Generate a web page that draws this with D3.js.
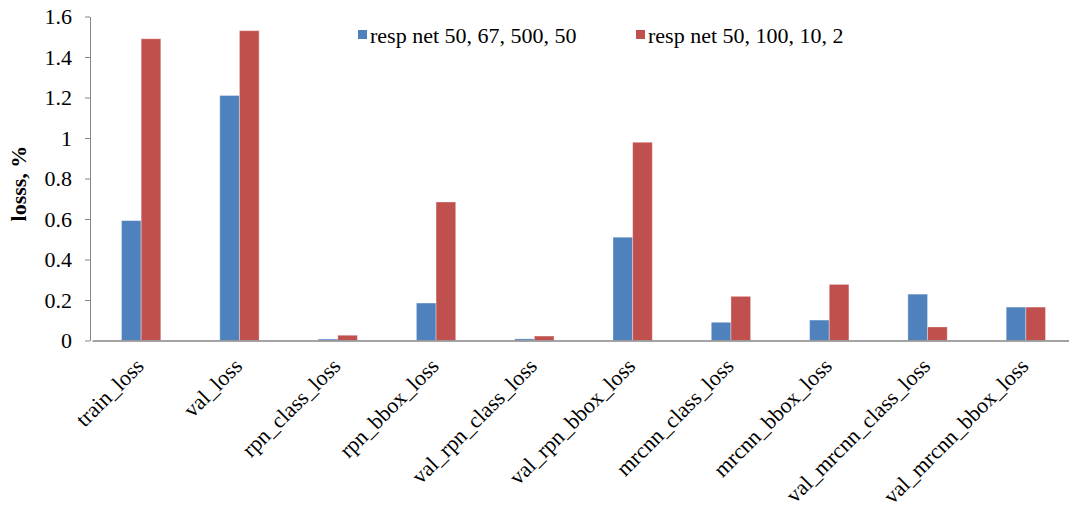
<!DOCTYPE html>
<html>
<head>
<meta charset="utf-8">
<script src="https://cdn.jsdelivr.net/npm/d3@7"></script>
<style>
  html, body { margin: 0; padding: 0; background: #ffffff; }
  svg { display: block; }
</style>
</head>
<body>
<svg id="chart" width="1069" height="510"></svg>
<script>
// Loss components compared across two network configurations
const categories = [
  "train_loss", "val_loss", "rpn_class_loss", "rpn_bbox_loss", "val_rpn_class_loss",
  "val_rpn_bbox_loss", "mrcnn_class_loss", "mrcnn_bbox_loss", "val_mrcnn_class_loss",
  "val_mrcnn_bbox_loss"
];
const seriesNames = ["resp net 50, 67, 500, 50", "resp net 50, 100, 10, 2"];
const seriesA = [0.592, 1.21, 0.007, 0.185, 0.008, 0.51, 0.09, 0.101, 0.229, 0.165];
const seriesB = [1.49, 1.53, 0.026, 0.684, 0.022, 0.979, 0.218, 0.277, 0.067, 0.165];
const yTicks = [0, 0.2, 0.4, 0.6, 0.8, 1, 1.2, 1.4, 1.6];
const yTitle = "losss, %";
const colors = ["#4F81BD", "#C0504D"];

const svg = d3.select("#chart");
const plot = { left: 90, right: 1075, top: 16.5, bottom: 340.5 };
const fontFamily = '"Liberation Serif", "Times New Roman", serif';
const fontSize = "22px";

const x0 = d3.scaleBand()
  .domain(categories)
  .range([plot.left + 2, plot.right])
  .paddingInner(0.6)
  .paddingOuter(0.3);

const x1 = d3.scaleBand()
  .domain(seriesNames)
  .range([0, x0.bandwidth()]);

const y = d3.scaleLinear()
  .domain([0, 1.6])
  .range([plot.bottom, plot.top]);

const rows = categories.map((c, i) => ({ cat: c, values: [seriesA[i], seriesB[i]] }));

// Bars
const groups = svg.append("g")
  .selectAll("g")
  .data(rows)
  .join("g")
  .attr("transform", d => `translate(${x0(d.cat)},0)`);

groups.selectAll("rect")
  .data(d => d.values.map((v, k) => ({ name: seriesNames[k], value: v, k })))
  .join("rect")
  .attr("x", d => x1(d.name))
  .attr("y", d => y(d.value))
  .attr("width", x1.bandwidth())
  .attr("height", d => y(0) - y(d.value))
  .attr("fill", d => colors[d.k])
  .attr("stroke", "rgba(255,255,255,0.35)")
  .attr("stroke-width", 1);

// Y axis
const yAxis = d3.axisLeft(y)
  .tickValues(yTicks)
  .tickFormat(d3.format("~g"))
  .tickSize(5)
  .tickSizeOuter(0)
  .tickPadding(13);

const yg = svg.append("g")
  .attr("transform", `translate(${plot.left},0)`)
  .call(yAxis);
yg.select(".domain").attr("stroke", "#868686");
yg.selectAll(".tick line").attr("stroke", "#868686");
yg.selectAll(".tick text")
  .attr("fill", "#000")
  .style("font-family", fontFamily)
  .style("font-size", fontSize);

// X axis baseline
const xAxis = d3.axisBottom(x0).tickSize(0).tickSizeOuter(0).tickFormat("");
const xg = svg.append("g")
  .attr("transform", `translate(0,${plot.bottom})`)
  .call(xAxis);
xg.select(".domain").attr("stroke", "#868686").attr("stroke-width", 1.5);

// Rotated category labels
svg.append("g")
  .selectAll("text")
  .data(categories)
  .join("text")
  .attr("transform", d => `translate(${x0(d) + x0.bandwidth() / 2 + 4},${plot.bottom + 27}) rotate(-45)`)
  .attr("text-anchor", "end")
  .style("font-family", fontFamily)
  .style("font-size", fontSize)
  .attr("fill", "#000")
  .text(d => d);

// Y title
svg.append("text")
  .attr("transform", `translate(26,${y(0.775)}) rotate(-90)`)
  .attr("text-anchor", "middle")
  .style("font-family", fontFamily)
  .style("font-size", fontSize)
  .style("font-weight", "bold")
  .text(yTitle);

// Legend
const legendPos = [358, 636];
const legend = svg.append("g")
  .selectAll("g")
  .data(seriesNames)
  .join("g")
  .attr("transform", (d, i) => `translate(${legendPos[i]},30)`);
legend.append("rect")
  .attr("width", 9)
  .attr("height", 9)
  .attr("fill", (d, i) => colors[i]);
legend.append("text")
  .attr("x", 12)
  .attr("y", 13)
  .style("font-family", fontFamily)
  .style("font-size", fontSize)
  .attr("fill", "#000")
  .text(d => d);
</script>
</body>
</html>
